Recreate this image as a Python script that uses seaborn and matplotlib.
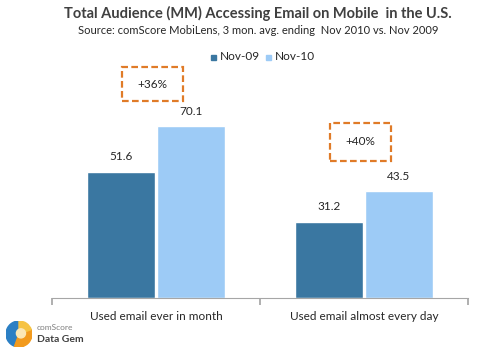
import matplotlib
matplotlib.use("Agg")
import matplotlib.pyplot as plt
import seaborn as sns
import pandas as pd
from matplotlib.patches import Rectangle, Wedge, Circle

categories = ["Used email ever in month", "Used email almost every day"]
series = ["Nov-09", "Nov-10"]
nov09 = [51.6, 31.2]
nov10 = [70.1, 43.5]
growth = ["+36%", "+40%"]

df = pd.DataFrame({
    "category": categories * 2,
    "series": [series[0]] * 2 + [series[1]] * 2,
    "value": nov09 + nov10,
})

sns.set_theme(style="white")
plt.rcParams["font.family"] = ["Lato", "DejaVu Sans"]

fig = plt.figure(figsize=(4.98, 3.55), dpi=100)
ax = fig.add_axes([0.1044, 0.1606, 0.8354, 0.69])

colors = ["#3a77a1", "#9dcbf6"]
sns.barplot(data=df, x="category", y="value", hue="series", palette=colors,
            width=0.67, gap=0.02, ax=ax, legend=False, saturation=1)

ax.set_ylim(0, 100)
ax.set_xlim(-0.5, 1.5)
ax.set_xlabel("")
ax.set_ylabel("")
ax.set_yticks([])
for s in ["top", "right", "left"]:
    ax.spines[s].set_visible(False)
ax.spines["bottom"].set_color("#a6a6a6")
ax.spines["bottom"].set_linewidth(0.8)

ax.set_xticks([-0.5, 0.5, 1.5], minor=False)
ax.set_xticklabels([])
ax.tick_params(axis="x", which="major", length=5, color="#a6a6a6", direction="out", bottom=True)
for i, c in enumerate(categories):
    ax.text(i, -5.5, c, ha="center", va="top", fontsize=8.5, color="#262626")

# value labels
for cont in ax.containers:
    ax.bar_label(cont, fmt="%.1f", padding=7, fontsize=8.5, color="#262626")

# dashed growth boxes
box_pos = [(-0.165, 80.3, 0.295, 13.8), (0.835, 56, 0.295, 15.4)]
for (x0, y0, w, h), g in zip(box_pos, growth):
    ax.add_patch(Rectangle((x0, y0), w, h, fill=False, edgecolor="#e07b28",
                           linestyle=(0, (3, 1.5)), linewidth=1.6, clip_on=False))
    ax.text(x0 + w / 2, y0 + h / 2, g, ha="center", va="center", fontsize=8.5, color="#262626")

# legend
fig.patches.append(Rectangle((211/498, 1 - 60/355), 5/498, 5/355, transform=fig.transFigure,
                             color=colors[0], figure=fig))
fig.text(220/498, 1 - 57/355, series[0], fontsize=8.5, color="#262626", va="center")
fig.patches.append(Rectangle((266/498, 1 - 60/355), 5/498, 5/355, transform=fig.transFigure,
                             color=colors[1], figure=fig))
fig.text(275/498, 1 - 57/355, series[1], fontsize=8.5, color="#262626", va="center")

# titles
fig.text(258/498, 1 - 13/355, "Total Audience (MM) Accessing Email on Mobile  in the U.S.",
         ha="center", va="center", fontsize=10.5, fontweight="bold", color="#404040")
fig.text(258/498, 1 - 30/355, "Source: comScore MobiLens, 3 mon. avg. ending  Nov 2010 vs. Nov 2009",
         ha="center", va="center", fontsize=8, color="#262626")

# logo
lax = fig.add_axes([6/498, 1 - 347/355, 26/498, 26/355])
lax.set_xlim(-1, 1); lax.set_ylim(-1, 1); lax.set_aspect("equal"); lax.axis("off")
lax.add_patch(Wedge((0, 0), 1, 90, 250, color="#2b7fc4"))
lax.add_patch(Wedge((0, 0), 1, 250, 20, color="#f29a1d"))
lax.add_patch(Wedge((0, 0), 1, 20, 90, color="#f6c343"))
lax.add_patch(Circle((0.15, 0.05), 0.35, color="#fbe7b5"))
fig.text(37/498, 1 - 328/355, "comScore", fontsize=6, color="#7f7f7f", va="center")
fig.text(37/498, 1 - 339/355, "Data Gem", fontsize=7.5, fontweight="bold", color="#404040", va="center")

fig.savefig("out.png", dpi=100)
